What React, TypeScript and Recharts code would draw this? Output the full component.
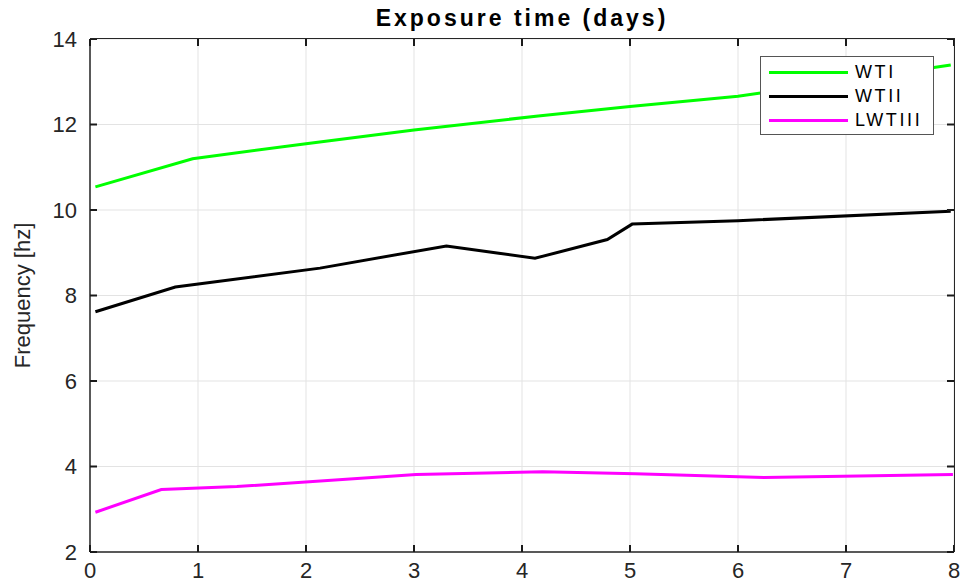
import { LineChart, Line, XAxis, YAxis, CartesianGrid, Label } from 'recharts';

const xTicks = [0, 1, 2, 3, 4, 5, 6, 7, 8];
const yTicks = [2, 4, 6, 8, 10, 12, 14];

const wtiDays = [0.05, 0.95, 2, 3, 4.15, 5, 6, 7.97];
const wtiFreq = [10.54, 11.2, 11.55, 11.87, 12.2, 12.42, 12.66, 13.39];

const wtiiDays = [0.05, 0.79, 2.13, 3.3, 4.12, 4.79, 5.02, 6, 7.97];
const wtiiFreq = [7.62, 8.2, 8.64, 9.16, 8.87, 9.31, 9.67, 9.75, 9.97];

const lwtiiiDays = [0.05, 0.66, 1.36, 3.02, 4.19, 5.05, 6.24, 7.99];
const lwtiiiFreq = [2.93, 3.46, 3.53, 3.81, 3.88, 3.83, 3.74, 3.81];

const toPoints = (xs: number[], ys: number[]) => xs.map((x, i) => ({ x, y: ys[i] }));

const series = [
  { name: 'WTI', color: '#00ff00', data: toPoints(wtiDays, wtiFreq) },
  { name: 'WTII', color: '#000000', data: toPoints(wtiiDays, wtiiFreq) },
  { name: 'LWTIII', color: '#ff00ff', data: toPoints(lwtiiiDays, lwtiiiFreq) },
];

const W = 964;
const H = 582;
const margin = { top: 39, right: 10, bottom: 0, left: 0 };
const xAxisH = 30;
const yAxisW = 90;
const plotTop = margin.top;
const plotRight = W - margin.right;

const font = '"Liberation Sans", Arial, sans-serif';
const axisColor = '#262626';
const tickColor = '#1a1a1a';
const tickLen = 7;

// matlab-style inward ticks on both sides of the box
const BottomTick = ({ x, y, payload }: any) => (
  <g>
    <line x1={x} x2={x} y1={y} y2={y - tickLen} stroke={tickColor} strokeWidth={2} />
    <line x1={x} x2={x} y1={plotTop} y2={plotTop + tickLen} stroke={tickColor} strokeWidth={2} />
    <text x={x} y={y + 26} textAnchor="middle" fill={axisColor} fontSize={22} fontFamily={font}>
      {payload.value}
    </text>
  </g>
);

const LeftTick = ({ x, y, payload }: any) => (
  <g>
    <line x1={x} x2={x + tickLen} y1={y} y2={y} stroke={tickColor} strokeWidth={2} />
    <line x1={plotRight} x2={plotRight - tickLen} y1={y} y2={y} stroke={tickColor} strokeWidth={2} />
    <text x={x - 13} y={y} textAnchor="end" dominantBaseline="central" fill={axisColor} fontSize={22} fontFamily={font}>
      {payload.value}
    </text>
  </g>
);

function LegendBox() {
  return (
    <div
      style={{
        position: 'absolute',
        left: 760,
        top: 56,
        width: 174,
        height: 79,
        border: '1px solid #555',
        background: '#fff',
        boxSizing: 'border-box',
        fontFamily: font,
        fontSize: 18,
        letterSpacing: 2.6,
        color: '#000',
        paddingTop: 3,
      }}
    >
      {series.map((s) => (
        <div key={s.name} style={{ display: 'flex', alignItems: 'center', height: 24 }}>
          <div style={{ width: 79, height: 3, background: s.color, marginLeft: 8, marginRight: 7 }} />
          <span>{s.name}</span>
        </div>
      ))}
    </div>
  );
}

export default function App() {
  return (
    <div style={{ position: 'absolute', left: 0, top: 0, width: W, height: H, background: '#fff' }}>
      <div
        style={{
          position: 'absolute',
          left: yAxisW,
          width: plotRight - yAxisW,
          top: 5,
          textAlign: 'center',
          fontFamily: font,
          fontWeight: 'bold',
          fontSize: 23,
          letterSpacing: 3,
          color: '#000',
        }}
      >
        Exposure time (days)
      </div>
      <LineChart width={W} height={H} margin={margin}>
        <CartesianGrid stroke="#e3e3e3" strokeWidth={1} />
        <XAxis
          dataKey="x"
          type="number"
          domain={[0, 8]}
          ticks={xTicks}
          allowDuplicatedCategory={false}
          height={xAxisH}
          tickSize={0}
          tickMargin={0}
          tickLine={false}
          stroke={axisColor}
          strokeWidth={1.5}
          tick={BottomTick}
        />
        <YAxis
          type="number"
          domain={[2, 14]}
          ticks={yTicks}
          width={yAxisW}
          tickSize={0}
          tickMargin={0}
          tickLine={false}
          stroke={axisColor}
          strokeWidth={1.5}
          tick={LeftTick}
        >
          <Label
            content={({ viewBox }: any) => {
              const cx = 22;
              const cy = viewBox.y + viewBox.height / 2;
              return (
                <text
                  x={cx}
                  y={cy}
                  transform={`rotate(-90, ${cx}, ${cy})`}
                  textAnchor="middle"
                  dominantBaseline="central"
                  fill={axisColor}
                  fontSize={22}
                  fontFamily={font}
                >
                  Frequency [hz]
                </text>
              );
            }}
          />
        </YAxis>
        {series.map((s) => (
          <Line
            key={s.name}
            data={s.data}
            dataKey="y"
            name={s.name}
            stroke={s.color}
            strokeWidth={3}
            dot={false}
            type="linear"
            isAnimationActive={false}
          />
        ))}
      </LineChart>
      {/* box edges on the top and right, as in the matlab frame */}
      <div
        style={{
          position: 'absolute',
          left: yAxisW,
          top: plotTop - 0.75,
          width: plotRight - yAxisW + 0.75,
          height: H - xAxisH - plotTop + 0.75,
          borderTop: `1.5px solid ${axisColor}`,
          borderRight: `1.5px solid ${axisColor}`,
          boxSizing: 'border-box',
          pointerEvents: 'none',
        }}
      />
      <LegendBox />
    </div>
  );
}
